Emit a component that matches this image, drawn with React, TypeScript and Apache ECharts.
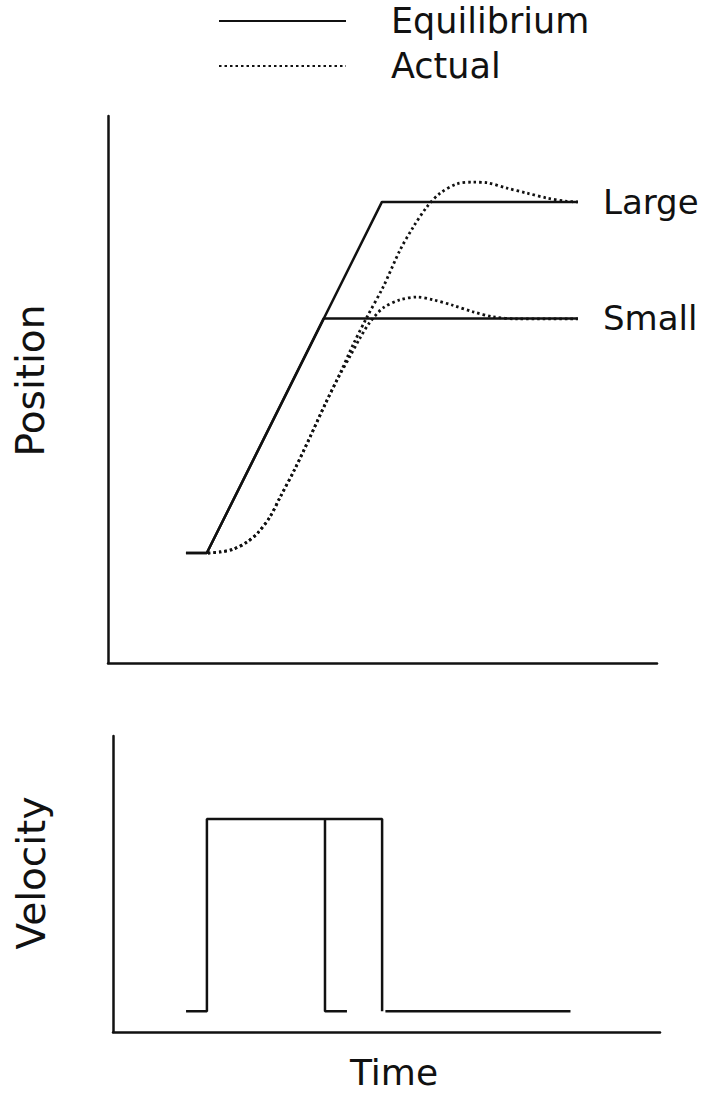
import React, { useEffect, useRef } from "react";
import * as echarts from "echarts";

// Time axis units (0..100) and position units (0..100)
const eqLargeT = [14.2, 18.0, 49.9, 85.6];
const eqLargeP = [20.1, 20.1, 84.3, 84.3];
const eqSmallT = [14.2, 18.0, 39.3, 85.6];
const eqSmallP = [20.1, 20.1, 63.0, 63.0];

const actLargeT = [18.2, 20.4, 22.8, 25.3, 27.3, 29.5, 31.3, 34.1, 36.8, 39.5, 42.3, 44.6, 47.2, 50.1, 53.2, 55.6, 58.1, 60.5, 63.6, 66.5, 69.0, 72.7, 76.3, 80.0, 83.6, 85.6];
const actLargeP = [20.1, 20.3, 20.8, 22.1, 23.8, 26.7, 30.2, 35.6, 41.3, 47.2, 53.0, 58.1, 63.3, 68.7, 75.5, 79.7, 83.4, 85.9, 87.6, 87.9, 87.8, 86.8, 85.9, 85.0, 84.4, 84.3];
const actSmallT = [18.2, 20.4, 22.8, 25.3, 27.3, 29.5, 31.3, 34.1, 36.8, 39.5, 41.9, 44.1, 45.9, 47.7, 50.1, 53.2, 56.3, 59.2, 62.8, 66.5, 70.1, 74.5, 85.6];
const actSmallP = [20.1, 20.3, 20.8, 22.1, 23.8, 26.7, 30.2, 35.6, 41.3, 47.2, 52.1, 56.1, 59.4, 62.3, 64.9, 66.4, 66.9, 66.4, 65.4, 64.2, 63.3, 62.9, 62.9];

// Velocity (0..10)
const velSmallT = [14.2, 18.0, 18.0, 39.5, 39.5, 43.5];
const velSmallV = [0.7, 0.7, 7.2, 7.2, 0.7, 0.7];
const velLargeT = [39.5, 49.9, 49.9];
const velLargeV = [7.2, 7.2, 0.7];
const velTailT = [50.5, 84.2];
const velTailV = [0.7, 0.7];

const zip = (a: number[], b: number[]) => a.map((v, i) => [v, b[i]]);

const FONT = "DejaVu Sans";
const BLACK = "#111";

export default function App() {
  const ref = useRef<HTMLDivElement>(null);
  useEffect(() => {
    if (!ref.current) return;
    const chart = echarts.init(ref.current, undefined, { renderer: "svg" });
    const axisLine = { show: true, onZero: false, lineStyle: { color: BLACK, width: 2.5 } };
    const noDeco = {
      axisTick: { show: false },
      axisLabel: { show: false },
      splitLine: { show: false },
    };
    const solid = { color: BLACK, width: 2.5, type: "solid" as const };
    const dotted = { color: BLACK, width: 2.8, type: [2.5, 3] as any };
    const endLabel = (txt: string) => ({
      show: true,
      formatter: txt,
      distance: 25,
      color: BLACK,
      fontSize: 34,
      fontFamily: FONT,
    });
    chart.setOption({
      animation: false,
      backgroundColor: "#fff",
      legend: {
        data: ["Equilibrium", "Actual"],
        orient: "vertical",
        left: 218,
        top: 0,
        padding: 0,
        itemWidth: 127,
        itemHeight: 20,
        itemGap: 3,
        selectedMode: false,
        itemStyle: { opacity: 0 },
        textStyle: { fontSize: 35, lineHeight: 32, fontFamily: FONT, color: BLACK, padding: [10, 0, 0, 40] },
      },
      grid: [
        { left: 108, top: 116, width: 549, height: 547 },
        { left: 113, top: 736, width: 547, height: 296 },
      ],
      xAxis: [
        { type: "value", gridIndex: 0, min: 0, max: 100, axisLine, ...noDeco },
        {
          type: "value",
          gridIndex: 1,
          min: 0.9,
          max: 100.5,
          axisLine,
          ...noDeco,
          name: "Time",
          nameLocation: "middle",
          nameGap: 22,
          nameTextStyle: { fontSize: 36, fontFamily: FONT, color: BLACK, padding: [0, 0, 0, 15] },
        },
      ],
      yAxis: [
        {
          type: "value",
          gridIndex: 0,
          min: 0,
          max: 100,
          axisLine,
          ...noDeco,
          name: "Position",
          nameLocation: "middle",
          nameRotate: 90,
          nameGap: 58,
          nameTextStyle: { fontSize: 39, fontFamily: FONT, color: BLACK, padding: [0, 0, 0, 18] },
        },
        {
          type: "value",
          gridIndex: 1,
          min: 0,
          max: 10,
          axisLine,
          ...noDeco,
          name: "Velocity",
          nameLocation: "middle",
          nameRotate: 90,
          nameGap: 62,
          nameTextStyle: { fontSize: 39, fontFamily: FONT, color: BLACK, padding: [0, 0, 0, 22] },
        },
      ],
      series: [
        { type: "line", name: "Equilibrium", xAxisIndex: 0, yAxisIndex: 0, data: zip(eqLargeT, eqLargeP), symbol: "none", lineStyle: solid, itemStyle: { color: BLACK }, endLabel: endLabel("Large") },
        { type: "line", name: "Equilibrium", xAxisIndex: 0, yAxisIndex: 0, data: zip(eqSmallT, eqSmallP), symbol: "none", lineStyle: solid, itemStyle: { color: BLACK }, endLabel: endLabel("Small") },
        { type: "line", name: "Actual", xAxisIndex: 0, yAxisIndex: 0, data: zip(actLargeT, actLargeP), symbol: "none", smooth: 0.3, lineStyle: dotted, itemStyle: { color: BLACK } },
        { type: "line", name: "Actual", xAxisIndex: 0, yAxisIndex: 0, data: zip(actSmallT, actSmallP), symbol: "none", smooth: 0.3, lineStyle: dotted, itemStyle: { color: BLACK } },
        { type: "line", name: "Velocity small", xAxisIndex: 1, yAxisIndex: 1, data: zip(velSmallT, velSmallV), symbol: "none", lineStyle: solid, itemStyle: { color: BLACK } },
        { type: "line", name: "Velocity large", xAxisIndex: 1, yAxisIndex: 1, data: zip(velLargeT, velLargeV), symbol: "none", lineStyle: solid, itemStyle: { color: BLACK } },
        { type: "line", name: "Velocity tail", xAxisIndex: 1, yAxisIndex: 1, data: zip(velTailT, velTailV), symbol: "none", lineStyle: solid, itemStyle: { color: BLACK } },
      ],
    });
    return () => chart.dispose();
  }, []);
  return <div ref={ref} style={{ position: "absolute", left: 0, top: 0, width: 708, height: 1098 }} />;
}
